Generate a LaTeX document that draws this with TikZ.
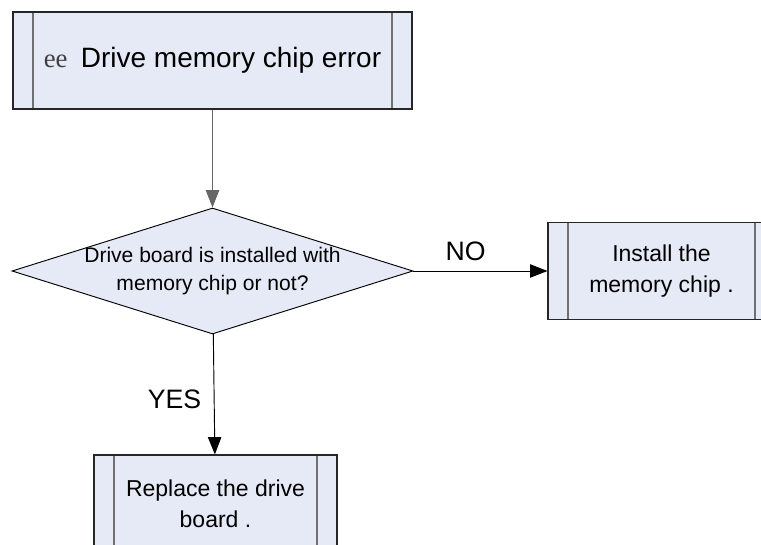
\documentclass[tikz,border=0pt]{standalone}
\usepackage{fontspec}
\setmainfont{Liberation Sans}
\newfontfamily\eefont{Liberation Serif}
\usetikzlibrary{arrows.meta,positioning,shapes.geometric}

\definecolor{boxfill}{RGB}{230,234,246}
\definecolor{innergray}{RGB}{112,112,112}

\begin{document}
\begin{tikzpicture}[
    x=0.75pt, y=-0.75pt,
    procbox/.style={rectangle, draw=black!85, line width=0.8pt, fill=boxfill, inner sep=0pt,
        minimum height=72.75pt, align=center,
        path picture={
            \draw[innergray, line width=0.9pt] ([xshift=15pt]path picture bounding box.north west) -- ([xshift=15pt]path picture bounding box.south west);
            \draw[innergray, line width=0.9pt] ([xshift=-15pt]path picture bounding box.north east) -- ([xshift=-15pt]path picture bounding box.south east);
        }},
    decision/.style={diamond, draw=black, line width=0.7pt, fill=boxfill, inner sep=-2pt,
        minimum width=300.75pt, minimum height=94.5pt, aspect=3.18, align=center,
        font=\fontsize{15.8}{20.5}\selectfont},
    flow/.style={-{Triangle[length=13pt, width=10pt]}, line width=0.7pt},
    answer/.style={font=\fontsize{20}{24}\selectfont}
]
\useasboundingbox (0,0) rectangle (761,545);

% start
\node[procbox, minimum width=299.25pt, font=\fontsize{21}{25}\selectfont] (error) at (212.5,60.5)
    {{\eefont\fontsize{20}{22}\selectfont\color{black!75}ee}\hspace{10pt}Drive memory chip error};
\node[decision, below=73.5pt of error] (check) {Drive board is installed with\\memory chip or not?};
\node[procbox, minimum width=170.25pt, right=100.5pt of check, font=\fontsize{17.25}{23.25}\selectfont] (install)
    {Install the\\memory chip .};
\node[procbox, minimum width=182.25pt, below=90pt of check, xshift=2.25pt, font=\fontsize{17.25}{23.25}\selectfont] (replace)
    {Replace the drive\\board .};

% connectors
\draw[flow, draw=black!60] (error) -- (check);
\draw[flow] (check) -- node[answer, above=4pt, pos=0.39] {NO} (install);
\draw[flow] (check) -- node[answer, left=6pt, pos=0.54] {YES} (replace);

\end{tikzpicture}
\end{document}
